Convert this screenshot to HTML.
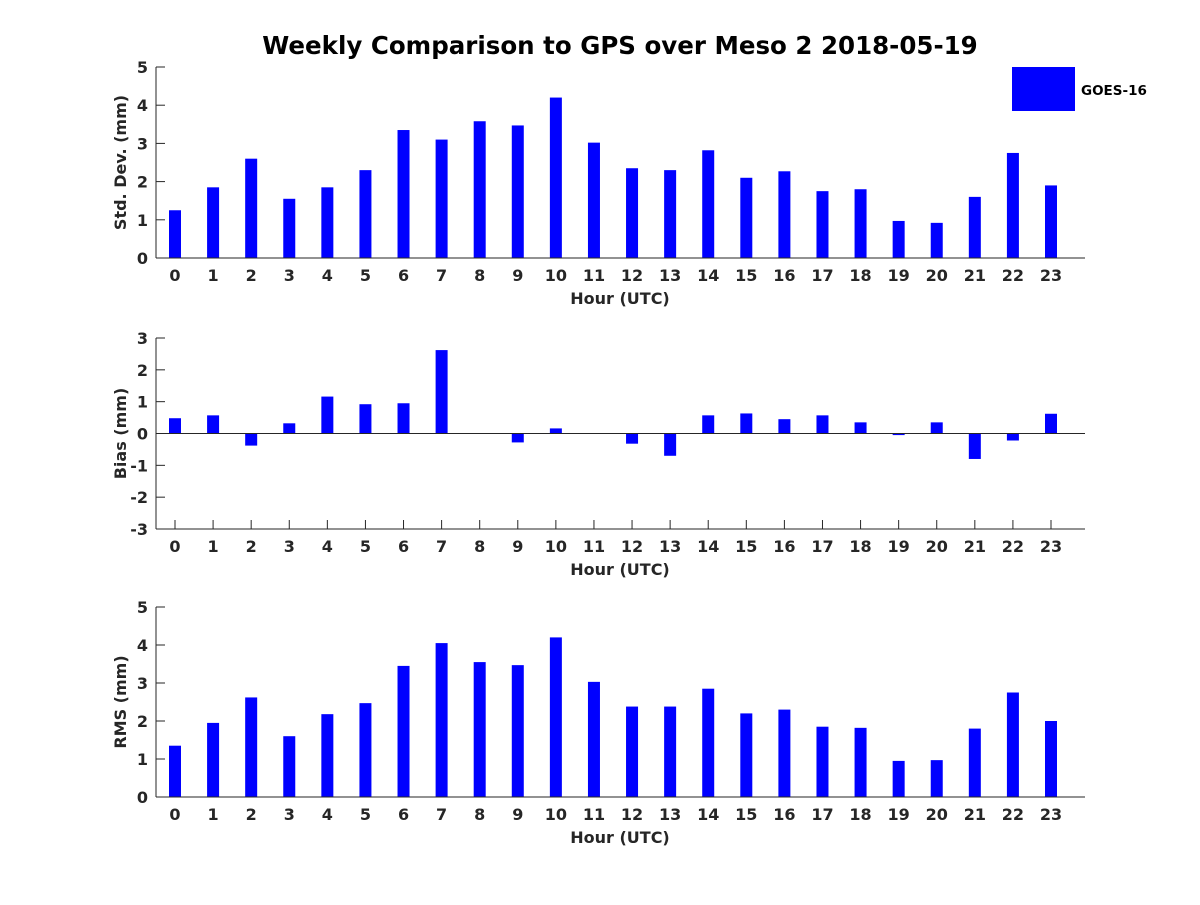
<!DOCTYPE html>
<html><head><meta charset="utf-8"><style>
body{margin:0;background:#fff}
svg text{font-family:"DejaVu Sans","Liberation Sans",sans-serif;font-weight:bold;fill:#262626}
</style></head><body>
<svg id="c" width="1200" height="900" viewBox="0 0 1200 900">
<text x="620" y="54" text-anchor="middle" font-size="24.5" style="fill:#000">Weekly Comparison to GPS over Meso 2 2018-05-19</text>
<rect x="1012" y="67" width="63" height="44" fill="#0000ff"/>
<text x="1081" y="95" font-size="13.5" style="fill:#000">GOES-16</text>
</svg>
<script>
const hours=[0,1,2,3,4,5,6,7,8,9,10,11,12,13,14,15,16,17,18,19,20,21,22,23];
const stdDev=[1.25,1.85,2.6,1.55,1.85,2.3,3.35,3.1,3.58,3.47,4.2,3.02,2.35,2.3,2.82,2.1,2.27,1.75,1.8,0.97,0.92,1.6,2.75,1.9];
const bias=[0.48,0.57,-0.38,0.32,1.16,0.92,0.95,2.62,0,-0.28,0.16,0,-0.32,-0.7,0.57,0.63,0.45,0.57,0.35,-0.05,0.35,-0.8,-0.22,0.62];
const rms=[1.35,1.95,2.62,1.6,2.18,2.47,3.45,4.05,3.55,3.47,4.2,3.03,2.38,2.38,2.85,2.2,2.3,1.85,1.82,0.95,0.97,1.8,2.75,2.0];
const stdTicks=[0,1,2,3,4,5];
const biasTicks=[-3,-2,-1,0,1,2,3];
const rmsTicks=[0,1,2,3,4,5];
const svg=document.getElementById('c');
const NS='http://www.w3.org/2000/svg';
function mk(t,a){const e=document.createElementNS(NS,t);for(const k in a)e.setAttribute(k,a[k]);svg.appendChild(e);return e;}
const X0=156,X1=1085;
function xs(h){return 175+h*(1051-175)/23;}
function panel(name,top,bot,ymin,ymax,ticks,vals,ylabel){
  const ys=v=>bot-(v-ymin)/(ymax-ymin)*(bot-top);
  const zero=ys(Math.max(ymin,0));
  hours.forEach(h=>{
    mk('line',{x1:xs(h),y1:bot,x2:xs(h),y2:bot-9,stroke:'#262626'});
  });
  ticks.forEach(t=>{
    const y=ys(t);
    mk('line',{x1:X0,y1:y,x2:X0+9,y2:y,stroke:'#262626'});
  });
  vals.forEach((v,i)=>{
    const y1=ys(v);
    const r=mk('rect',{x:xs(hours[i])-6,y:Math.min(y1,zero),width:12,height:Math.max(Math.abs(zero-y1),0.5),fill:'#0000ff'});
    
    
  });
  let l=mk('line',{x1:X0,y1:top,x2:X0,y2:bot,stroke:'#262626','stroke-width':1});
  
  l=mk('line',{x1:X0,y1:bot,x2:X1,y2:bot,stroke:'#262626','stroke-width':1});
  
  if(ymin<0){l=mk('line',{x1:X0,y1:zero,x2:X1,y2:zero,stroke:'#262626','stroke-width':1});
    }
  ticks.forEach(t=>{
    const y=ys(t);
    const tx=mk('text',{x:X0-8,y:y+6,'text-anchor':'end','font-size':16});
    tx.textContent=t;
    
    
  });
  hours.forEach(h=>{
    const tx=mk('text',{x:xs(h),y:bot+23,'text-anchor':'middle','font-size':16});
    tx.textContent=h;
    
    
  });
  let t=mk('text',{x:620,y:bot+46,'text-anchor':'middle','font-size':16});
  t.textContent='Hour (UTC)';
  
  const cy=(top+bot)/2;
  t=mk('text',{x:126,y:cy,'text-anchor':'middle','font-size':16,transform:'rotate(-90 126 '+cy+')'});
  t.textContent=ylabel;
  
}
panel('std',67,258,0,5,stdTicks,stdDev,'Std. Dev. (mm)');
panel('bias',338,529,-3,3,biasTicks,bias,'Bias (mm)');
panel('rms',607,797,0,5,rmsTicks,rms,'RMS (mm)');
</script>
</body></html>
